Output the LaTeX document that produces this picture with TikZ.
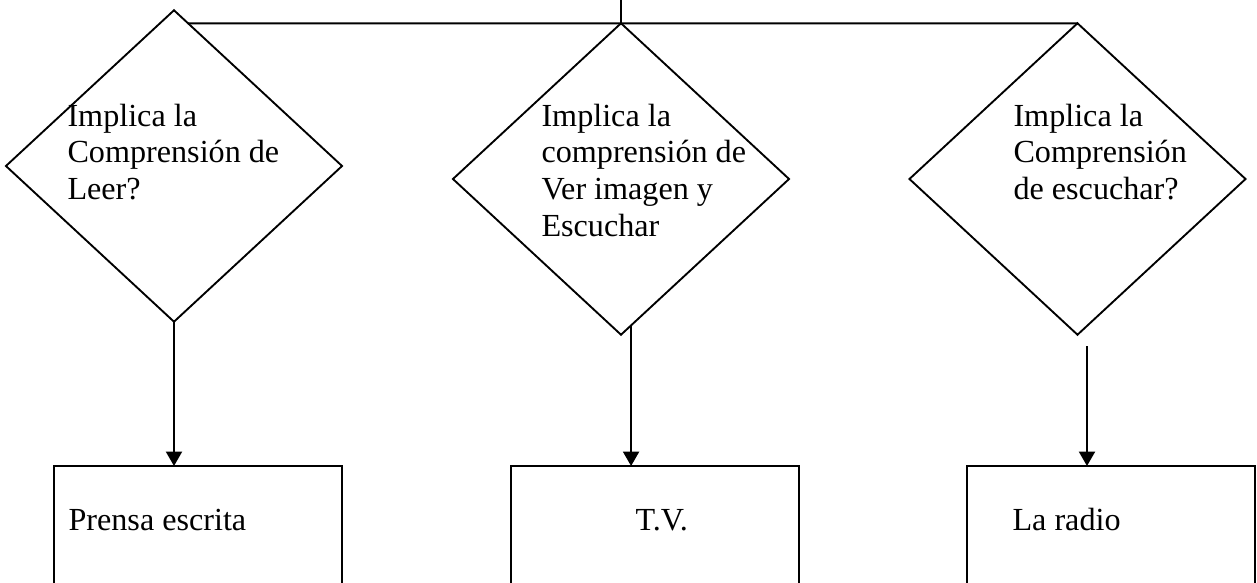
\documentclass[tikz,border=0pt]{standalone}
\usepackage{fontspec}
\setmainfont{Liberation Serif}
\usetikzlibrary{shapes.geometric,arrows.meta,calc}
\tikzset{
  dia/.style={draw, shape=diamond, inner sep=0pt, outer sep=0pt, line width=0.7pt,
    minimum width=125.4pt, minimum height=116.2pt},
  boxnode/.style={draw, rectangle, inner sep=0pt, outer sep=0pt, line width=0.75pt,
    minimum width=107.4pt, minimum height=48.5pt, anchor=north west},
  lbl/.style={inner sep=0pt, anchor=base west, font=\fontsize{12pt}{13.8pt}\selectfont},
  conn/.style={line width=0.75pt},
  arr/.style={conn, -{Triangle[width=6pt,length=5.4pt]}}
}
\begin{document}
\begin{tikzpicture}[x=0.3731pt, y=-0.3731pt]
\clip (0,0) rectangle (1257,583);
\fill[white] (0,0) rectangle (1257,583);
% diamonds
\node[dia] (d1) at (174,166) {};
\node[dia] (d2) at (621,179) {};
\node[dia] (d3) at (1077.5,179) {};
% boxes
\node[boxnode] (b1) at (54,466) {};
\node[boxnode] (b2) at (511,466) {};
\node[boxnode] (b3) at (967,466) {};
% texts
\node[lbl] (t1) at (67,126) {\begin{tabular}[t]{@{}l@{}}Implica la\\Comprensión de\\Leer?\end{tabular}};
\node[lbl] (t2) at (541,126) {\begin{tabular}[t]{@{}l@{}}Implica la\\comprensión de\\Ver imagen y\\Escuchar\end{tabular}};
\node[lbl] (t3) at (1013,126) {\begin{tabular}[t]{@{}l@{}}Implica la\\Comprensión\\de escuchar?\end{tabular}};
\node[lbl] (bt1) at (68,530) {Prensa escrita};
\node[lbl] (bt2) at (635,530) {T.V.};
\node[lbl] (bt3) at (1012,530) {La radio};
% connectors
\coordinate (topin) at (621,0);
\coordinate (a3) at (1087,346);
\draw[conn] (topin) -- (d2.north);
\draw[conn] ($(d1.north)!0.084!(d1.east)$) -- (d3.north);
\draw[arr] (d1.south) -- (d1.south |- b1.north);
\coordinate (a2) at ($(d2.south)!0.06!(d2.east)$);
\draw[arr] (a2) -- (a2 |- b2.north);
\draw[arr] (a3) -- (a3 |- b3.north);
\end{tikzpicture}
\end{document}
